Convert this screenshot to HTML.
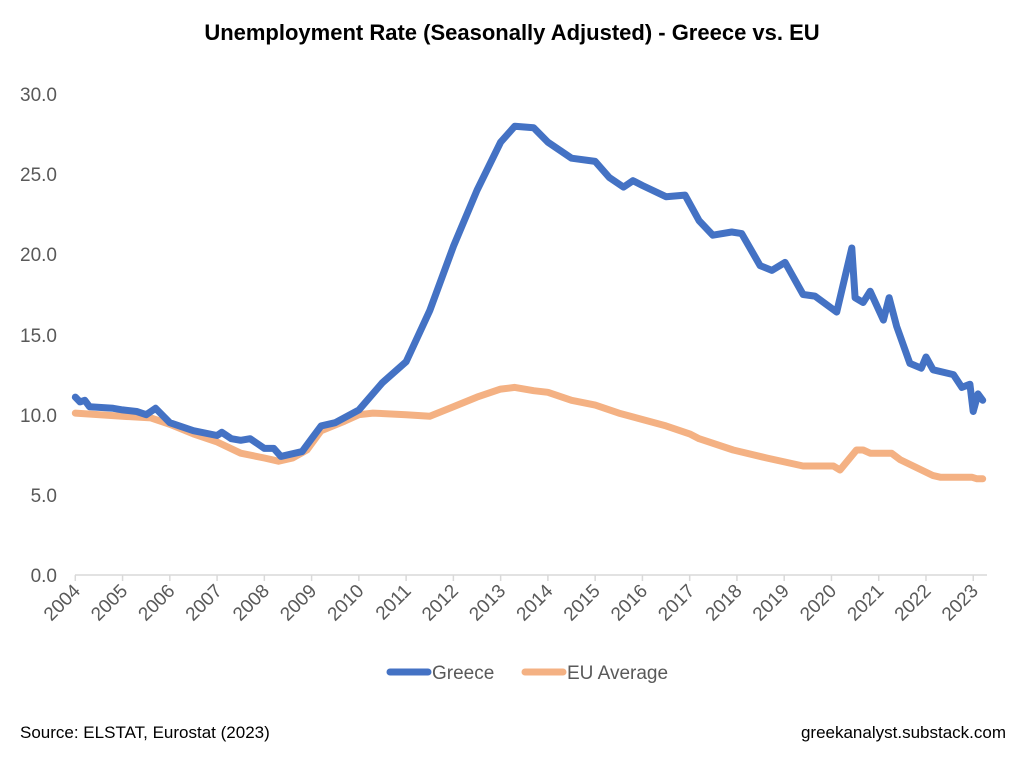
<!DOCTYPE html>
<html><head><meta charset="utf-8"><style>
body{margin:0;background:#fff;width:1024px;height:761px;overflow:hidden}
svg{font-family:"Liberation Sans",Arial,sans-serif}
</style></head><body>
<svg id="c" width="1024" height="761" viewBox="0 0 1024 761">
<rect width="1024" height="761" fill="#fff"/>
<text x="512" y="40" text-anchor="middle" font-size="22" font-weight="bold" fill="#000">Unemployment Rate (Seasonally Adjusted) - Greece vs. EU</text>
<g font-size="19" fill="#595959" text-anchor="end">
<text x="57" y="582">0.0</text><text x="57" y="502">5.0</text><text x="57" y="422">10.0</text>
<text x="57" y="342">15.0</text><text x="57" y="261">20.0</text><text x="57" y="181">25.0</text><text x="57" y="101">30.0</text>
</g>
<line x1="75" y1="575" x2="987" y2="575" stroke="#d9d9d9" stroke-width="1.5"/>
<g id="ticks"></g>
<path id="eu" fill="none" stroke="#F4B183" stroke-width="7" stroke-linejoin="round" stroke-linecap="round"/>
<path id="gr" fill="none" stroke="#4472C4" stroke-width="7" stroke-linejoin="round" stroke-linecap="round"/>
<line x1="390" y1="672" x2="428" y2="672" stroke="#4472C4" stroke-width="7" stroke-linecap="round"/>
<text x="432" y="679" font-size="19" fill="#595959">Greece</text>
<line x1="525" y1="672" x2="563" y2="672" stroke="#F4B183" stroke-width="7" stroke-linecap="round"/>
<text x="567" y="679" font-size="19" fill="#595959">EU Average</text>
<text x="20" y="738" font-size="17" fill="#000">Source: ELSTAT, Eurostat (2023)</text>
<text x="1006" y="738" font-size="17" fill="#000" text-anchor="end">greekanalyst.substack.com</text>
</svg>
<script>
function X(y){return 75.3+47.26*(y-2004)}function Y(v){return 575-16.03*v}
var g=[[2004,11.1],[2004.1,10.8],[2004.2,10.9],[2004.3,10.5],[2004.8,10.4],[2005,10.3],[2005.3,10.2],[2005.5,10.0],[2005.6,10.2],[2005.7,10.4],[2006,9.5],[2006.5,9.0],[2007,8.7],[2007.1,8.9],[2007.3,8.5],[2007.5,8.4],[2007.7,8.5],[2008,7.9],[2008.2,7.9],[2008.35,7.4],[2008.8,7.7],[2009.0,8.5],[2009.2,9.3],[2009.5,9.5],[2010,10.3],[2010.5,12.0],[2011,13.3],[2011.5,16.5],[2012,20.5],[2012.5,24.0],[2013,27.0],[2013.3,28.0],[2013.7,27.9],[2014,27.0],[2014.5,26.0],[2015,25.8],[2015.3,24.8],[2015.6,24.2],[2015.8,24.6],[2016,24.3],[2016.5,23.6],[2016.9,23.7],[2017.2,22.1],[2017.49,21.2],[2017.89,21.4],[2018.1,21.3],[2018.49,19.3],[2018.74,19.0],[2019.02,19.5],[2019.4,17.5],[2019.65,17.4],[2020.11,16.4],[2020.43,20.4],[2020.5,17.3],[2020.67,17.0],[2020.82,17.7],[2021.1,15.9],[2021.22,17.3],[2021.38,15.5],[2021.66,13.2],[2021.9,12.9],[2022.0,13.6],[2022.15,12.8],[2022.58,12.5],[2022.76,11.7],[2022.93,11.9],[2023.0,10.2],[2023.1,11.3],[2023.2,10.9]];
var e=[[2004,10.1],[2005,9.9],[2005.6,9.8],[2006,9.4],[2006.5,8.8],[2007,8.3],[2007.5,7.6],[2008,7.3],[2008.3,7.1],[2008.6,7.3],[2008.9,7.8],[2009.2,9.0],[2009.7,9.6],[2010,10.0],[2010.3,10.1],[2011,10.0],[2011.5,9.9],[2012,10.5],[2012.5,11.1],[2013,11.6],[2013.3,11.7],[2013.7,11.5],[2014,11.4],[2014.5,10.9],[2015,10.6],[2015.5,10.1],[2016,9.7],[2016.5,9.3],[2017,8.8],[2017.2,8.5],[2017.92,7.8],[2018.63,7.3],[2019.4,6.8],[2020.04,6.8],[2020.18,6.55],[2020.53,7.8],[2020.67,7.8],[2020.82,7.6],[2021.27,7.6],[2021.45,7.2],[2022.15,6.2],[2022.3,6.1],[2022.97,6.1],[2023.08,6.0],[2023.2,6.0]];
function P(a){return a.map(function(p,i){return(i?"L":"M")+X(p[0]).toFixed(1)+","+Y(p[1]).toFixed(1)}).join("")}
document.getElementById("gr").setAttribute("d",P(g));document.getElementById("eu").setAttribute("d",P(e));
var t="";for(var y=2004;y<=2023;y++){var x=X(y);t+='<line x1="'+x+'" y1="575" x2="'+x+'" y2="581" stroke="#d9d9d9" stroke-width="1.5"/>'+'<text transform="translate('+(x+6)+',592) rotate(-45)" text-anchor="end" font-size="19" fill="#595959">'+y+'</text>';}
document.getElementById("ticks").innerHTML=t;
</script>
</body></html>
